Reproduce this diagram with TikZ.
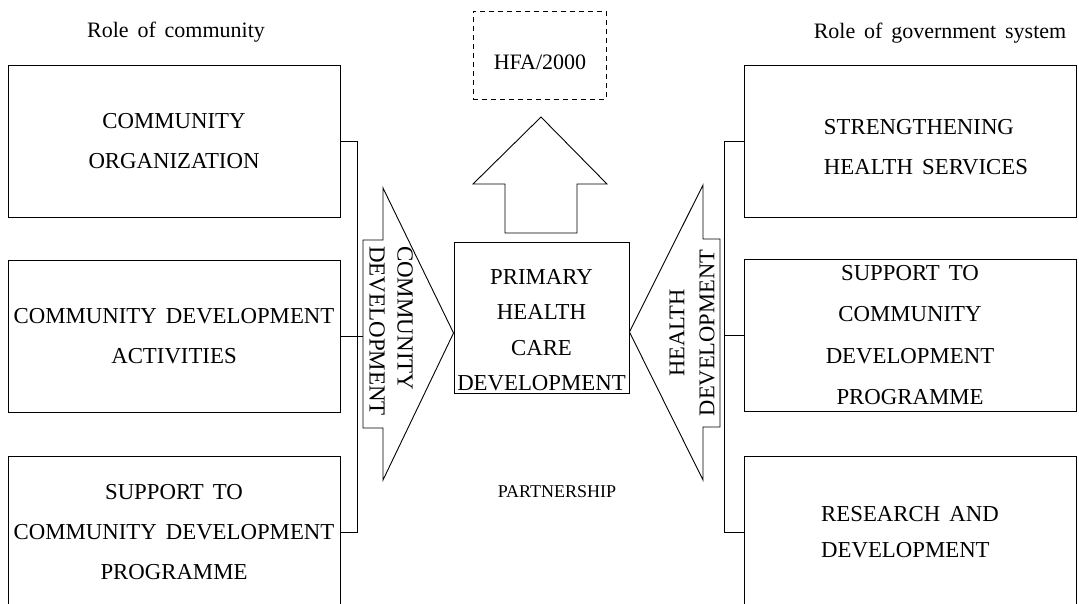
\documentclass[tikz,border=0pt]{standalone}
\usepackage{fontspec}
\setmainfont{Liberation Serif}[WordSpace=1.6]
\begin{document}
\begin{tikzpicture}[x=1pt,y=-1pt,
  ln/.style={line width=0.9pt},
  box/.style={draw, ln, minimum width=332pt, minimum height=152pt, inner sep=0pt,
    font=\fontsize{22.8}{40}\selectfont, align=center},
  txt/.style={inner sep=0pt, font=\fontsize{22.8}{40}\selectfont, align=center},
  hdr/.style={inner sep=0pt, font=\fontsize{22}{26}\selectfont},
  bigarrow/.style={draw, ln, line join=miter}
]
\useasboundingbox (0,0) rectangle (1079,603);
\clip (0,0) rectangle (1079,603);

% headers
\node[hdr] (hl) at (176,32) {Role of community};
\node[hdr] (hr) at (940,33) {Role of government system};

% left boxes
\node[box] (L1) at (174,141) {COMMUNITY\\ORGANIZATION};
\node[box] (L2) at (174,336) {COMMUNITY DEVELOPMENT\\ACTIVITIES};
\node[box] (L3) at (174,532) {SUPPORT TO\\COMMUNITY DEVELOPMENT\\PROGRAMME};

% right boxes
\node[box] (R1) at (910,141) {};
\node[txt, align=left] (R1t) at (926,147) {STRENGTHENING\\HEALTH SERVICES};
\node[box, font=\fontsize{22.8}{41.5}\selectfont] (R2) at (910,335) {SUPPORT TO\\COMMUNITY\\DEVELOPMENT\\PROGRAMME};
\node[box, align=left, font=\fontsize{22.8}{36}\selectfont] (R3) at (910,532) {RESEARCH AND\\DEVELOPMENT};

% central box
\node[draw, ln, minimum width=175pt, minimum height=151pt, inner sep=0pt] (PHC) at (541.5,317.5) {};
\node[txt, font=\fontsize{22.8}{35.3}\selectfont] (PHCt) at (541.5,330) {PRIMARY\\HEALTH\\CARE\\DEVELOPMENT};

% HFA box
\node[draw, ln, dash pattern=on 5pt off 4pt, minimum width=133pt, minimum height=88pt, inner sep=0pt] (HFA) at (539.5,55) {};
\node[txt, font=\fontsize{22}{24}\selectfont] (HFAt) at (540,62) {HFA/2000};

% up arrow
\coordinate (ua) at (541,117);
\draw[bigarrow] (505,233) -- (505,184) -- (473,184) -- (ua) -- (607,184) -- (577,184) -- (577,233) -- cycle;

% left big arrow (community development)
\coordinate (cdW) at (363,336);
\coordinate (cdTip) at (PHC.west |- 0,333);
\draw[bigarrow] (363,240) -- (383,240) -- (383,188) -- (cdTip) -- (383,480) -- (383,428) -- (363,428) -- cycle;
\node[txt, rotate=-90, align=left, font=\fontsize{23}{28}\selectfont] (cdt) at (391,331) {COMMUNITY\\DEVELOPMENT};

% right big arrow (health development)
\coordinate (hdTip) at (PHC.east |- 0,332);
\draw[bigarrow] (720,239) -- (703,239) -- (703,185) -- (hdTip) -- (703,480) -- (703,427) -- (720,427) -- cycle;
\node[txt, rotate=90, font=\fontsize{22.5}{30}\selectfont] (hdt) at (692,333) {HEALTH\\DEVELOPMENT};

% left bracket
\draw[ln] (L1.east) -- ++(17,0) coordinate (lb) -- (lb |- L3.east) -- (L3.east);
\draw[ln] (L2.east) -- (L2.east -| cdW);

% right bracket
\draw[ln] (R1.west) -- ++(-19,0) coordinate (rb) -- (rb |- R3.west) -- (R3.west);
\draw[ln] (R2.west) -- (rb |- R2.west);

% partnership
\node[txt, font=\fontsize{18}{22}\selectfont] (part) at (557,492) {PARTNERSHIP};
\end{tikzpicture}
\end{document}
